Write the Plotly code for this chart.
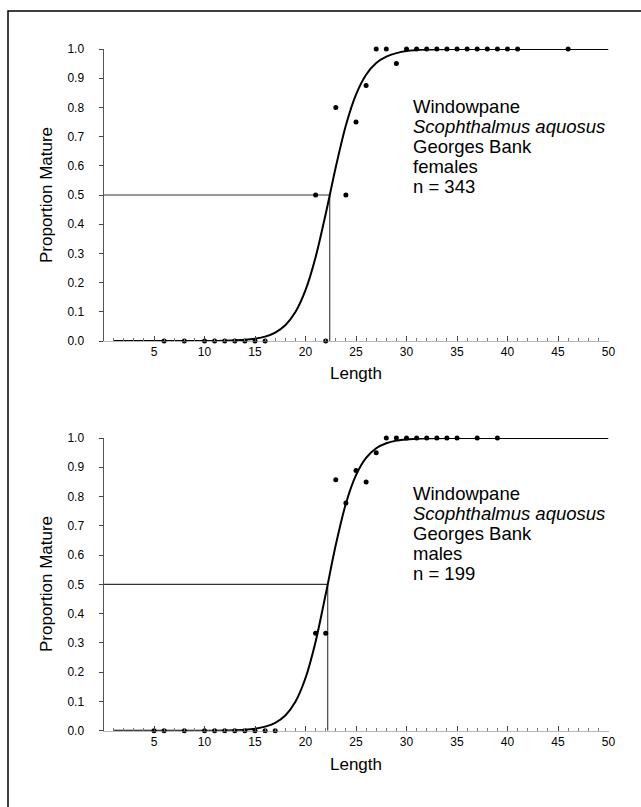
import plotly.graph_objects as go

W, H = 641, 807

# ---------------- data ----------------
# Females (top panel)
f_len = [6, 8, 10, 11, 12, 13, 14, 15, 16, 21, 22, 23, 24, 25, 26, 27, 28, 29,
         30, 31, 32, 33, 34, 35, 36, 37, 38, 39, 40, 41, 46]
f_prop = [0, 0, 0, 0, 0, 0, 0, 0, 0, 0.5, 0, 0.8, 0.5, 0.75, 0.875, 1, 1, 0.95,
          1, 1, 1, 1, 1, 1, 1, 1, 1, 1, 1, 1, 1]
f_curve_x = [1, 10, 12, 14, 15, 16, 17, 18, 19, 20, 21, 22, 23, 24, 25, 26, 27, 28, 29, 30, 32, 35, 50]
f_curve_y = [0.0, 0.0003, 0.0012, 0.0042, 0.008, 0.015, 0.029, 0.054, 0.099, 0.174, 0.287, 0.435,
             0.596, 0.739, 0.844, 0.912, 0.952, 0.974, 0.986, 0.993, 0.998, 1.0, 1.0]
f_l50 = 22.4
f_text = ["Windowpane", "<i>Scophthalmus aquosus</i>", "Georges Bank", "females", "n = 343"]

# Males (bottom panel)
m_len = [5, 6, 8, 10, 11, 12, 13, 14, 15, 16, 17, 21, 22, 23, 24, 25, 26, 27, 28, 29,
         30, 31, 32, 33, 34, 35, 37, 39]
m_prop = [0, 0, 0, 0, 0, 0, 0, 0, 0, 0, 0, 0.333, 0.333, 0.857, 0.778, 0.889, 0.85, 0.95, 1, 1,
          1, 1, 1, 1, 1, 1, 1, 1]
m_curve_x = [1, 10, 12, 14, 15, 16, 17, 18, 19, 20, 21, 22, 23, 24, 25, 26, 27, 28, 29, 30, 32, 35, 50]
m_curve_y = [0.0, 0.0002, 0.0008, 0.0035, 0.007, 0.014, 0.027, 0.052, 0.099, 0.180, 0.304, 0.466,
             0.635, 0.776, 0.873, 0.932, 0.965, 0.982, 0.991, 0.995, 0.999, 1.0, 1.0]
m_l50 = 22.2
m_text = ["Windowpane", "<i>Scophthalmus aquosus</i>", "Georges Bank", "males", "n = 199"]

x_ticks = [5, 10, 15, 20, 25, 30, 35, 40, 45, 50]
y_ticks = [0.0, 0.1, 0.2, 0.3, 0.4, 0.5, 0.6, 0.7, 0.8, 0.9, 1.0]

# ---------------- layout helpers ----------------
def px_x(p):
    return p / W

def px_y(p):
    return 1 - p / H

FONT = "Liberation Sans, Arial, Helvetica, sans-serif"
x_dom = [px_x(103.5), px_x(608.5)]
panels = [
    dict(len=f_len, prop=f_prop, cx=f_curve_x, cy=f_curve_y, l50=f_l50, text=f_text,
         ydom=[px_y(341), px_y(49)], xa="x", ya="y", text_top=94, len_y=373, pm_y=195),
    dict(len=m_len, prop=m_prop, cx=m_curve_x, cy=m_curve_y, l50=m_l50, text=m_text,
         ydom=[px_y(730.7), px_y(438)], xa="x2", ya="y2", text_top=481, len_y=764, pm_y=584),
]

fig = go.Figure()
annotations = []
for i, p in enumerate(panels):
    xa, ya = p["xa"], p["ya"]
    # L50 reference lines
    fig.add_trace(go.Scatter(x=[0, p["l50"], p["l50"]], y=[0.5, 0.5, 0], mode="lines",
                             line=dict(color="#333333", width=1.1), xaxis=xa, yaxis=ya,
                             showlegend=False, hoverinfo="skip", cliponaxis=False))
    # fitted curve
    fig.add_trace(go.Scatter(x=p["cx"], y=p["cy"], mode="lines",
                             line=dict(color="black", width=2, shape="spline", smoothing=0.8),
                             xaxis=xa, yaxis=ya, showlegend=False, cliponaxis=False))
    # observed points
    fig.add_trace(go.Scatter(x=p["len"], y=p["prop"], mode="markers",
                             marker=dict(color="black", size=5), xaxis=xa, yaxis=ya,
                             showlegend=False, cliponaxis=False))
    # text block
    for j, t in enumerate(p["text"]):
        annotations.append(dict(text=t, xref="paper", yref="paper", x=px_x(410.5),
                                y=px_y(p["text_top"] + 20 * j), xanchor="left", yanchor="top",
                                showarrow=False, font=dict(family=FONT, size=18.5, color="black")))
    annotations.append(dict(text="Length", xref="paper", yref="paper", x=px_x(356),
                            y=px_y(p["len_y"]), xanchor="center", yanchor="middle",
                            showarrow=False, font=dict(family=FONT, size=17, color="black")))
    annotations.append(dict(text="Proportion Mature", xref="paper", yref="paper", x=px_x(46),
                            y=px_y(p["pm_y"]), xanchor="center", yanchor="middle", textangle=-90,
                            showarrow=False, font=dict(family=FONT, size=17, color="black")))

axis_common_x = dict(range=[0, 50], domain=x_dom, tickvals=x_ticks, ticks="inside", ticklen=5,
                     tickcolor="#444", showline=True, linecolor="#888", linewidth=0.6,
                     showgrid=False, zeroline=False, fixedrange=True, automargin=False,
                     minor=dict(dtick=1, ticks="inside", ticklen=3, tickcolor="#777"),
                     tickfont=dict(family=FONT, size=12, color="black"))
axis_common_y = dict(range=[0, 1], tickvals=y_ticks, tickformat=".1f", ticks="outside", ticklen=4,
                     tickcolor="#444", showline=True, linecolor="#555", linewidth=1,
                     showgrid=False, zeroline=False, fixedrange=True, ticklabelstandoff=12,
                     automargin=False,
                     tickfont=dict(family=FONT, size=12, color="black"))

fig.update_layout(
    width=W, height=H, autosize=False,
    margin=dict(l=0, r=0, t=0, b=0, pad=0),
    paper_bgcolor="white", plot_bgcolor="white",
    xaxis=dict(**axis_common_x, anchor="y"),
    yaxis=dict(**axis_common_y, domain=panels[0]["ydom"], anchor="x"),
    xaxis2=dict(**axis_common_x, anchor="y2"),
    yaxis2=dict(**axis_common_y, domain=panels[1]["ydom"], anchor="x2"),
    annotations=annotations,
    shapes=[dict(type="rect", xref="paper", yref="paper", x0=px_x(8), y0=px_y(812),
                 x1=px_x(646), y1=px_y(11), line=dict(color="black", width=1.5))],
    showlegend=False,
)

fig.write_html(
    "out.html",
    config={"responsive": False, "displayModeBar": False, "staticPlot": True},
    post_script="document.body.style.margin='0';document.body.style.overflow='hidden';",
)
